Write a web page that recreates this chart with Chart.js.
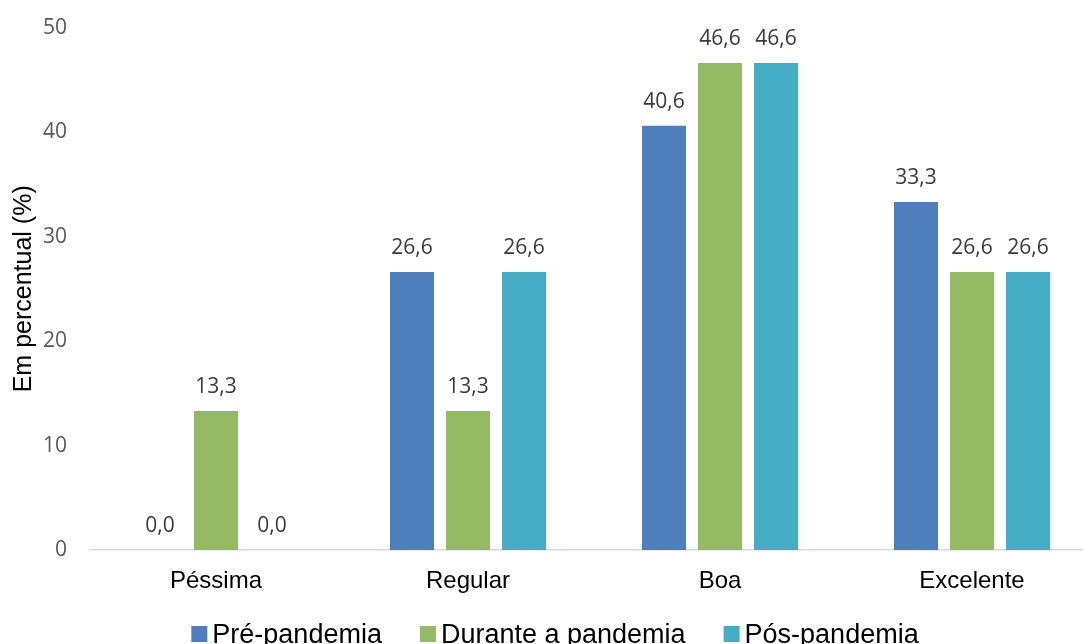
<!DOCTYPE html>
<html lang="pt-BR">
<head>
<meta charset="utf-8">
<title>Avaliação por período</title>
<script src="https://cdn.jsdelivr.net/npm/chart.js@4/dist/chart.umd.min.js"></script>
<style>
  html, body { margin: 0; padding: 0; background: #ffffff; overflow: hidden; }
  #wrap { width: 1083px; height: 644px; overflow: hidden; position: relative; }
  canvas { display: block; }
</style>
</head>
<body>
<div id="wrap"><canvas id="chart" width="1110" height="660"></canvas></div>
<script>
// Categories and series (percentages)
const categories = ['Péssima', 'Regular', 'Boa', 'Excelente'];
const prePandemia = [0.0, 26.6, 40.6, 33.3];
const durantePandemia = [13.3, 13.3, 46.6, 26.6];
const posPandemia = [0.0, 26.6, 46.6, 26.6];
const seriesNames = ['Pré-pandemia', 'Durante a pandemia', 'Pós-pandemia'];
const yTicks = [0, 10, 20, 30, 40, 50];

const colors = ['#4E7FBC', '#94BB63', '#44ADC4'];
const valueFont = '21px "Open Sans", sans-serif';
const legendFont = '27px "Liberation Sans", Arial, sans-serif';

const fmt = v => v.toFixed(1).replace('.', ',');

// Value labels above each bar
const barLabels = {
  id: 'barLabels',
  afterDatasetsDraw(chart) {
    const ctx = chart.ctx;
    ctx.save();
    ctx.font = valueFont;
    ctx.fillStyle = '#3A3A3A';
    ctx.textAlign = 'center';
    ctx.textBaseline = 'alphabetic';
    chart.data.datasets.forEach((ds, i) => {
      chart.getDatasetMeta(i).data.forEach((bar, j) => {
        ctx.fillText(fmt(ds.data[j]), bar.x, bar.y - 18);
      });
    });
    ctx.restore();
  }
};

// Legend row along the bottom edge
const bottomLegend = {
  id: 'bottomLegend',
  afterDraw(chart) {
    const ctx = chart.ctx;
    ctx.save();
    ctx.font = legendFont;
    ctx.textBaseline = 'alphabetic';
    ctx.textAlign = 'left';
    const box = 16, gapText = 5, gapItem = 38;
    const items = chart.data.datasets.map(ds => ({
      label: ds.label, color: ds.backgroundColor, w: ctx.measureText(ds.label).width
    }));
    const total = items.reduce((s, it) => s + box + gapText + it.w, 0) + gapItem * (items.length - 1);
    let x = chart.width / 2 - total / 2;
    const baseline = 643;
    items.forEach(it => {
      ctx.fillStyle = it.color;
      ctx.fillRect(x, baseline - 17, box, box);
      x += box + gapText;
      ctx.fillStyle = '#000000';
      ctx.fillText(it.label, x, baseline);
      x += it.w + gapItem;
    });
    ctx.restore();
  }
};

new Chart(document.getElementById('chart'), {
  type: 'bar',
  data: {
    labels: categories,
    datasets: [
      { label: seriesNames[0], data: prePandemia, backgroundColor: colors[0] },
      { label: seriesNames[1], data: durantePandemia, backgroundColor: colors[1] },
      { label: seriesNames[2], data: posPandemia, backgroundColor: colors[2] }
    ]
  },
  options: {
    responsive: false,
    animation: false,
    devicePixelRatio: 1,
    layout: { padding: { top: 19, left: 0, right: 12, bottom: 0 } },
    datasets: { bar: { categoryPercentage: 0.667, barPercentage: 0.786 } },
    plugins: {
      legend: { display: false },
      tooltip: { enabled: false }
    },
    scales: {
      x: {
        grid: { display: false },
        border: { display: true, color: '#D9D9D9', width: 1.5 },
        ticks: {
          color: '#000000',
          padding: 9,
          font: { family: '"Liberation Sans", Arial, sans-serif', size: 24 }
        },
        afterFit(scale) { scale.height = 110; }
      },
      y: {
        min: 0,
        max: 50,
        afterBuildTicks(scale) { scale.ticks = yTicks.map(v => ({ value: v })); },
        grid: { display: false },
        border: { display: false },
        ticks: {
          color: '#595959',
          padding: 15,
          font: { family: '"Open Sans", sans-serif', size: 21 }
        },
        title: {
          display: true,
          text: 'Em percentual (%)',
          color: '#000000',
          padding: { top: 9, bottom: 0 },
          font: { family: '"Liberation Sans", Arial, sans-serif', size: 25 }
        },
        afterFit(scale) { scale.width = 90; }
      }
    }
  },
  plugins: [barLabels, bottomLegend]
});
</script>
</body>
</html>
